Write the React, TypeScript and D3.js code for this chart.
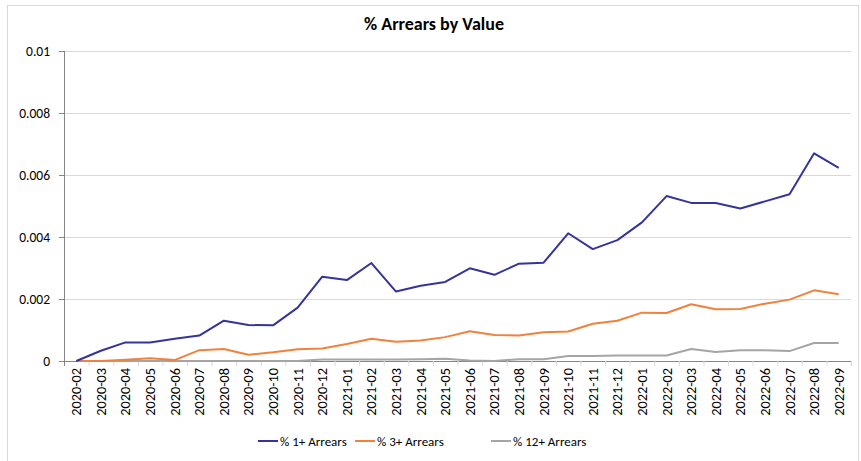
import React from "react";
import * as d3 from "d3";

const months = [
  "2020-02","2020-03","2020-04","2020-05","2020-06","2020-07","2020-08","2020-09","2020-10","2020-11","2020-12",
  "2021-01","2021-02","2021-03","2021-04","2021-05","2021-06","2021-07","2021-08","2021-09","2021-10","2021-11","2021-12",
  "2022-01","2022-02","2022-03","2022-04","2022-05","2022-06","2022-07","2022-08","2022-09",
];

const arrears1 = [
  0, 0.00033, 0.0006, 0.0006, 0.00072, 0.00082, 0.0013, 0.00116, 0.00115, 0.00172, 0.00272,
  0.00261, 0.00316, 0.00224, 0.00243, 0.00255, 0.00299, 0.00278, 0.00314, 0.00317, 0.00412, 0.00361, 0.0039,
  0.00447, 0.00532, 0.0051, 0.0051, 0.00492, 0.00515, 0.00538, 0.0067, 0.00623,
];

const arrears3 = [
  0, 0, 0.00004, 0.00009, 0.00003, 0.00035, 0.00039, 0.0002, 0.00028, 0.00038, 0.0004,
  0.00055, 0.00072, 0.00062, 0.00066, 0.00077, 0.00096, 0.00084, 0.00082, 0.00093, 0.00095, 0.0012, 0.0013,
  0.00156, 0.00155, 0.00183, 0.00167, 0.00168, 0.00185, 0.00198, 0.00228, 0.00215,
];

const arrears12 = [
  0, 0, 0, 0, 0, 0, 0, 0, 0, 0, 0.00005,
  0.00005, 0.00005, 0.00005, 0.00006, 0.00007, 0.00002, 0, 0.00006, 0.00006, 0.00016, 0.00016, 0.00018,
  0.00018, 0.00018, 0.00039, 0.00029, 0.00035, 0.00035, 0.00032, 0.00058, 0.00058,
];

const yTicks = [0, 0.002, 0.004, 0.006, 0.008, 0.01];
const yTickLabels = ["0", "0.002", "0.004", "0.006", "0.008", "0.01"];

const seriesNames = ["% 1+ Arrears", "% 3+ Arrears", "% 12+ Arrears"];
const seriesColors = ["#34349a", "#f0823c", "#a5a5a5"];

const W = 861;
const H = 461;
const left = 64;
const right = 851;
const top = 51;
const bottom = 361;
const FONT = "Carlito, Calibri, 'Liberation Sans', Arial, sans-serif";

export default function App() {
  const x = d3.scaleBand<string>().domain(months).range([left, right]).padding(0);
  const y = d3.scaleLinear().domain([0, 0.01]).range([bottom, top]);
  const cx = (m: string) => (x(m) as number) + x.bandwidth() / 2;
  const allSeries = [arrears1, arrears3, arrears12];
  const lineGen = (vals: number[]) =>
    d3
      .line<number>()
      .x((_, i) => cx(months[i]))
      .y((v) => y(v))(vals) as string;

  const legendX = [258, 355, 491];
  const legendY = 441;

  return (
    <svg
      width={W}
      height={H}
      style={{ position: "absolute", left: 0, top: 0, background: "#fff" }}
      fontFamily={FONT}
    >
      <rect x={7.5} y={5.5} width={851} height={470} fill="#fff" stroke="#d9d9d9" strokeWidth={1} />
      <text x={434} y={30} textAnchor="middle" fontSize={18} fontWeight="bold" fill="#000">
        % Arrears by Value
      </text>

      {yTicks.map((t, i) => (
        <g key={t}>
          {t > 0 && (
            <line x1={left} x2={right} y1={y(t) + 0.5} y2={y(t) + 0.5} stroke="#d9d9d9" strokeWidth={1} />
          )}
          <line x1={left - 5} x2={left} y1={y(t) + 0.5} y2={y(t) + 0.5} stroke="#868686" strokeWidth={1} />
          <text x={left - 14} y={y(t)} dy="0.35em" textAnchor="end" fontSize={13.5} fill="#000">
            {yTickLabels[i]}
          </text>
        </g>
      ))}

      <line x1={left + 0.5} x2={left + 0.5} y1={top} y2={bottom + 5} stroke="#868686" strokeWidth={1} />
      <line x1={left} x2={right + 1} y1={bottom + 0.5} y2={bottom + 0.5} stroke="#868686" strokeWidth={1} />
      {months.map((m) => (
        <line
          key={"t" + m}
          x1={(x(m) as number) + x.bandwidth() + 0.5}
          x2={(x(m) as number) + x.bandwidth() + 0.5}
          y1={bottom}
          y2={bottom + 5}
          stroke="#d9d9d9"
          strokeWidth={1}
        />
      ))}
      {months.map((m) => (
        <text
          key={"l" + m}
          transform={`translate(${cx(m) + 5},${bottom + 7}) rotate(-90)`}
          textAnchor="end"
          fontSize={14.3}
          fill="#000"
        >
          {m}
        </text>
      ))}

      {allSeries
        .slice()
        .reverse()
        .map((vals, ri) => {
          const i = allSeries.length - 1 - ri;
          return (
            <path
              key={seriesNames[i]}
              d={lineGen(vals)}
              fill="none"
              stroke={seriesColors[i]}
              strokeWidth={2}
              strokeLinejoin="round"
            />
          );
        })}

      {seriesNames.map((n, i) => (
        <g key={"lg" + n}>
          <line
            x1={legendX[i]}
            x2={legendX[i] + 20}
            y1={legendY}
            y2={legendY}
            stroke={seriesColors[i]}
            strokeWidth={2}
          />
          <text x={legendX[i] + 22} y={legendY} dy="0.35em" fontSize={13} fill="#000">
            {n}
          </text>
        </g>
      ))}
    </svg>
  );
}
